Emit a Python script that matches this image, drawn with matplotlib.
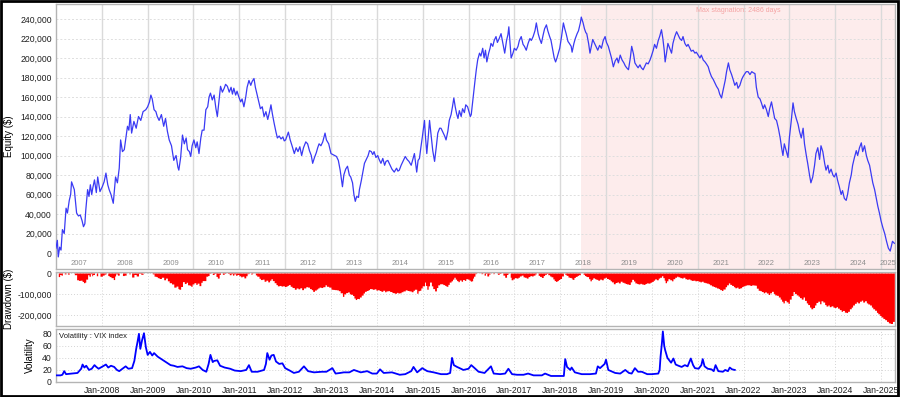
import matplotlib
matplotlib.use('Agg')
import matplotlib.pyplot as plt
import matplotlib.transforms as mtransforms
from matplotlib.patches import Rectangle
from matplotlib.ticker import FuncFormatter
import numpy as np

plt.rcParams['font.family'] = ['Liberation Sans', 'DejaVu Sans']

# equity curve (decimal year, thousand $)
eq_t = [2007.00, 2007.03, 2007.05, 2007.08, 2007.11, 2007.14, 2007.18, 2007.22, 2007.25, 2007.29,
        2007.32, 2007.34, 2007.40, 2007.45, 2007.49, 2007.53, 2007.57, 2007.60, 2007.63, 2007.65,
        2007.69, 2007.72, 2007.75, 2007.78, 2007.80, 2007.84, 2007.88, 2007.91, 2007.96, 2008.01,
        2008.05, 2008.09, 2008.13, 2008.16, 2008.20, 2008.25, 2008.28, 2008.30, 2008.34, 2008.38,
        2008.41, 2008.45, 2008.49, 2008.53, 2008.56, 2008.59, 2008.62, 2008.65, 2008.70, 2008.75,
        2008.80, 2008.85, 2008.90, 2008.96, 2009.00, 2009.04, 2009.07, 2009.10, 2009.14, 2009.18,
        2009.21, 2009.25, 2009.30, 2009.35, 2009.39, 2009.43, 2009.47, 2009.52, 2009.57, 2009.62,
        2009.66, 2009.68, 2009.72, 2009.76, 2009.80, 2009.84, 2009.87, 2009.91, 2009.94, 2009.97,
        2010.01, 2010.05, 2010.08, 2010.12, 2010.16, 2010.19, 2010.23, 2010.27, 2010.31, 2010.34,
        2010.37, 2010.41, 2010.45, 2010.49, 2010.52, 2010.56, 2010.59, 2010.63, 2010.67, 2010.70,
        2010.74, 2010.78, 2010.82, 2010.85, 2010.88, 2010.92, 2010.95, 2010.99, 2011.03, 2011.06,
        2011.10, 2011.14, 2011.17, 2011.21, 2011.25, 2011.28, 2011.32, 2011.35, 2011.38, 2011.43,
        2011.46, 2011.50, 2011.54, 2011.58, 2011.62, 2011.66, 2011.69, 2011.72, 2011.76, 2011.80,
        2011.83, 2011.87, 2011.91, 2011.95, 2011.98, 2012.01, 2012.04, 2012.07, 2012.11, 2012.15,
        2012.20, 2012.24, 2012.28, 2012.32, 2012.36, 2012.40, 2012.45, 2012.49, 2012.53, 2012.57,
        2012.60, 2012.64, 2012.68, 2012.71, 2012.74, 2012.78, 2012.82, 2012.87, 2012.90, 2012.95,
        2013.00, 2013.04, 2013.08, 2013.12, 2013.16, 2013.20, 2013.25, 2013.28, 2013.32, 2013.36,
        2013.40, 2013.43, 2013.47, 2013.50, 2013.53, 2013.56, 2013.60, 2013.62, 2013.66, 2013.70,
        2013.73, 2013.77, 2013.81, 2013.84, 2013.88, 2013.91, 2013.94, 2013.98, 2014.02, 2014.05,
        2014.09, 2014.13, 2014.17, 2014.20, 2014.24, 2014.28, 2014.33, 2014.38, 2014.43, 2014.46,
        2014.49, 2014.53, 2014.57, 2014.62, 2014.66, 2014.70, 2014.75, 2014.79, 2014.82, 2014.87,
        2014.90, 2014.93, 2014.96, 2014.99, 2015.04, 2015.06, 2015.09, 2015.12, 2015.15, 2015.19,
        2015.22, 2015.26, 2015.30, 2015.33, 2015.37, 2015.40, 2015.44, 2015.48, 2015.51, 2015.55,
        2015.58, 2015.62, 2015.65, 2015.68, 2015.71, 2015.74, 2015.77, 2015.80, 2015.84, 2015.87,
        2015.91, 2015.94, 2015.98, 2016.01, 2016.04, 2016.06, 2016.09, 2016.11, 2016.14, 2016.17,
        2016.20, 2016.24, 2016.27, 2016.31, 2016.34, 2016.37, 2016.40, 2016.44, 2016.47, 2016.49,
        2016.53, 2016.56, 2016.60, 2016.63, 2016.67, 2016.71, 2016.75, 2016.79, 2016.83, 2016.86,
        2016.88, 2016.91, 2016.93, 2016.97, 2017.00, 2017.04, 2017.08, 2017.11, 2017.15, 2017.19,
        2017.22, 2017.26, 2017.30, 2017.34, 2017.37, 2017.41, 2017.45, 2017.48, 2017.52, 2017.55,
        2017.59, 2017.63, 2017.66, 2017.70, 2017.73, 2017.77, 2017.80, 2017.84, 2017.87, 2017.90,
        2017.93, 2017.96, 2017.99, 2018.03, 2018.07, 2018.10, 2018.13, 2018.17, 2018.20, 2018.24,
        2018.26, 2018.30, 2018.33, 2018.37, 2018.40, 2018.44, 2018.46, 2018.50, 2018.53, 2018.56,
        2018.58, 2018.62, 2018.65, 2018.68, 2018.71, 2018.75, 2018.78, 2018.82, 2018.86, 2018.90,
        2018.94, 2018.98, 2019.01, 2019.05, 2019.09, 2019.12, 2019.16, 2019.20, 2019.24, 2019.27,
        2019.31, 2019.35, 2019.39, 2019.42, 2019.45, 2019.49, 2019.53, 2019.56, 2019.60, 2019.63,
        2019.67, 2019.70, 2019.74, 2019.77, 2019.81, 2019.85, 2019.88, 2019.92, 2019.96, 2019.99,
        2020.03, 2020.06, 2020.10, 2020.14, 2020.17, 2020.21, 2020.24, 2020.27, 2020.29, 2020.32,
        2020.35, 2020.39, 2020.43, 2020.46, 2020.50, 2020.54, 2020.57, 2020.61, 2020.65, 2020.68,
        2020.72, 2020.76, 2020.79, 2020.83, 2020.86, 2020.90, 2020.94, 2020.97, 2021.01, 2021.05,
        2021.08, 2021.12, 2021.16, 2021.19, 2021.23, 2021.26, 2021.30, 2021.34, 2021.37, 2021.41,
        2021.45, 2021.48, 2021.52, 2021.55, 2021.60, 2021.63, 2021.67, 2021.70, 2021.74, 2021.78,
        2021.81, 2021.85, 2021.88, 2021.92, 2021.96, 2021.99, 2022.03, 2022.06, 2022.10, 2022.14,
        2022.18, 2022.21, 2022.25, 2022.28, 2022.32, 2022.36, 2022.39, 2022.43, 2022.46, 2022.50,
        2022.54, 2022.57, 2022.61, 2022.65, 2022.68, 2022.72, 2022.76, 2022.80, 2022.83, 2022.86,
        2022.89, 2022.93, 2022.97, 2023.00, 2023.04, 2023.08, 2023.11, 2023.15, 2023.19, 2023.22,
        2023.26, 2023.30, 2023.33, 2023.37, 2023.40, 2023.44, 2023.47, 2023.51, 2023.55, 2023.58,
        2023.62, 2023.66, 2023.69, 2023.73, 2023.77, 2023.80, 2023.84, 2023.87, 2023.91, 2023.95,
        2023.98, 2024.02, 2024.05, 2024.09, 2024.13, 2024.16, 2024.20, 2024.24, 2024.27, 2024.31,
        2024.35, 2024.38, 2024.42, 2024.46, 2024.49, 2024.53, 2024.57, 2024.60, 2024.64, 2024.68,
        2024.71, 2024.75, 2024.79, 2024.82, 2024.86, 2024.90, 2024.93, 2024.97, 2025.00, 2025.04,
        2025.08, 2025.12, 2025.16, 2025.20, 2025.25, 2025.29]
eq_v = [5, 13, -4, 6, 3, 24, 20, 46, 41, 54,
        60, 73, 65, 41, 38, 39, 33, 27, 30, 44,
        65, 58, 70, 60, 66, 75, 62, 78, 63, 68,
        73, 82, 70, 65, 60, 51, 68, 78, 72, 87,
        116, 104, 106, 120, 130, 126, 142, 123, 135, 128,
        140, 136, 145, 147, 150, 155, 162, 158, 147, 145,
        140, 136, 142, 130, 138, 125, 116, 110, 95, 100,
        88, 85, 98, 121, 112, 118, 106, 104, 99, 110,
        116, 108, 114, 102, 118, 126, 126, 147, 150, 160,
        164, 157, 162, 148, 140, 158, 171, 165, 169, 173,
        171, 165, 170, 163, 169, 162, 166, 160, 155, 158,
        150, 160, 170, 177, 172, 176, 179, 170, 164, 154,
        148, 150, 140, 145, 137, 145, 152, 143, 133, 124,
        118, 120, 117, 119, 115, 116, 120, 124, 116, 110,
        102, 108, 104, 109, 100, 108, 114, 112, 105, 100,
        92, 98, 103, 108, 112, 110, 114, 123, 116, 112,
        102, 101, 100, 99, 95, 85, 68, 80, 86, 89,
        80, 78, 72, 60, 53, 58, 57, 65, 74, 84,
        92, 96, 100, 105, 104, 101, 104, 98, 100, 96,
        92, 97, 90, 94, 95, 91, 86, 83, 87, 84,
        85, 90, 94, 99, 96, 94, 90, 97, 102, 83,
        95, 97, 108, 118, 136, 120, 102, 118, 136, 118,
        105, 94, 110, 123, 128, 128, 124, 120, 116, 125,
        136, 142, 150, 159, 150, 143, 138, 146, 140, 148,
        144, 152, 150, 145, 140, 142, 155, 164, 176, 188,
        198, 205, 202, 210, 200, 208, 196, 205, 210, 215,
        212, 218, 222, 216, 220, 225, 215, 205, 218, 224,
        232, 212, 200, 205, 210, 208, 212, 218, 222, 214,
        212, 208, 215, 220, 218, 222, 228, 236, 225, 220,
        215, 224, 230, 234, 228, 222, 218, 208, 200, 196,
        200, 205, 210, 222, 236, 230, 225, 217, 215, 212,
        206, 215, 220, 225, 228, 236, 242, 236, 230, 226,
        225, 215, 205, 212, 219, 215, 212, 208, 213, 210,
        218, 222, 216, 212, 205, 200, 191, 197, 200, 195,
        203, 198, 195, 192, 190, 188, 200, 212, 204, 195,
        192, 190, 193, 190, 188, 192, 195, 194, 198, 202,
        208, 214, 210, 218, 222, 229, 220, 208, 196, 205,
        215, 210, 205, 215, 222, 227, 224, 220, 218, 222,
        215, 212, 214, 210, 207, 208, 205, 206, 203, 200,
        203, 198, 196, 194, 191, 186, 181, 178, 175, 171,
        168, 163, 159, 166, 177, 186, 195, 188, 183, 177,
        172, 175, 169, 172, 178, 181, 184, 186, 186, 183,
        186, 185, 184, 170, 160, 158, 154, 148, 152, 147,
        140, 148, 155, 145, 138, 136, 128, 118, 108, 100,
        112, 105, 98, 118, 135, 154, 145, 138, 132, 125,
        118, 128, 112, 100, 92, 80, 72, 78, 90, 102,
        108, 96, 110, 104, 92, 85, 90, 82, 86, 80,
        78, 82, 75, 68, 60, 64, 56, 54, 60, 72,
        80, 90, 98, 105, 100, 108, 113, 104, 110, 100,
        95, 90, 80, 72, 65, 55, 48, 40, 33, 26,
        20, 12, 5, 2, 12, 10]

# VIX index (decimal year, level)
vix_t = [2007.00, 2007.10, 2007.14, 2007.18, 2007.22, 2007.35, 2007.47, 2007.55, 2007.58, 2007.62,
         2007.66, 2007.72, 2007.78, 2007.84, 2007.88, 2007.93, 2008.00, 2008.09, 2008.14, 2008.20,
         2008.27, 2008.33, 2008.38, 2008.45, 2008.52, 2008.58, 2008.66, 2008.71, 2008.75, 2008.78,
         2008.81, 2008.84, 2008.88, 2008.92, 2008.96, 2009.00, 2009.05, 2009.10, 2009.14, 2009.18,
         2009.22, 2009.30, 2009.40, 2009.50, 2009.57, 2009.65, 2009.76, 2009.85, 2009.94, 2010.05,
         2010.12, 2010.20, 2010.28, 2010.33, 2010.37, 2010.42, 2010.45, 2010.52, 2010.58, 2010.68,
         2010.80, 2010.90, 2011.03, 2011.15, 2011.21, 2011.27, 2011.40, 2011.54, 2011.58, 2011.61,
         2011.66, 2011.70, 2011.75, 2011.80, 2011.87, 2011.94, 2012.00, 2012.10, 2012.19, 2012.30,
         2012.41, 2012.50, 2012.63, 2012.80, 2012.90, 2013.03, 2013.10, 2013.20, 2013.28, 2013.40,
         2013.50, 2013.65, 2013.79, 2013.90, 2014.00, 2014.07, 2014.15, 2014.33, 2014.50, 2014.62,
         2014.75, 2014.80, 2014.88, 2014.99, 2015.10, 2015.24, 2015.40, 2015.53, 2015.60, 2015.64,
         2015.68, 2015.75, 2015.89, 2016.00, 2016.06, 2016.12, 2016.22, 2016.35, 2016.49, 2016.55,
         2016.69, 2016.80, 2016.87, 2016.95, 2017.06, 2017.20, 2017.30, 2017.42, 2017.60, 2017.67,
         2017.80, 2017.95, 2018.08, 2018.11, 2018.15, 2018.22, 2018.25, 2018.32, 2018.47, 2018.65,
         2018.78, 2018.82, 2018.87, 2018.97, 2019.00, 2019.05, 2019.20, 2019.31, 2019.42, 2019.50,
         2019.56, 2019.63, 2019.70, 2019.78, 2019.90, 2020.00, 2020.14, 2020.17, 2020.19, 2020.22,
         2020.24, 2020.27, 2020.29, 2020.34, 2020.37, 2020.42, 2020.47, 2020.52, 2020.58, 2020.65,
         2020.72, 2020.78, 2020.85, 2020.90, 2020.94, 2021.02, 2021.08, 2021.11, 2021.15, 2021.22,
         2021.30, 2021.35, 2021.39, 2021.45, 2021.55, 2021.60, 2021.66, 2021.70, 2021.75, 2021.81]
vix_v = [11, 11, 12, 18, 13, 14, 15, 22, 29, 24,
         27, 20, 22, 28, 25, 22, 25, 29, 24, 27,
         25, 20, 18, 22, 26, 22, 23, 35, 55, 67,
         80, 55, 70, 81, 58, 45, 50, 44, 48, 45,
         42, 38, 33, 28, 27, 25, 26, 23, 22, 24,
         26, 20, 17, 30, 45, 33, 35, 36, 27, 24,
         22, 19, 18, 20, 28, 17, 17, 20, 30, 48,
         37, 44, 45, 34, 30, 31, 23, 19, 15, 17,
         26, 18, 16, 17, 17, 23, 14, 15, 16, 16,
         20, 16, 18, 14, 14, 21, 15, 16, 12, 13,
         18, 25, 16, 23, 18, 16, 13, 13, 15, 40,
         28, 25, 20, 22, 28, 24, 17, 15, 26, 14,
         13, 14, 22, 13, 12, 12, 14, 11, 11, 14,
         10, 10, 10, 38, 25, 20, 24, 16, 13, 13,
         14, 26, 23, 30, 37, 20, 15, 14, 20, 15,
         14, 23, 17, 17, 13, 13, 14, 20, 42, 65,
         84, 60, 53, 40, 37, 32, 39, 29, 27, 25,
         28, 26, 39, 28, 23, 22, 28, 38, 26, 22,
         21, 18, 28, 18, 17, 20, 18, 24, 21, 20]

years = list(range(2008, 2026))
stagnation_start = 2018.46
stagnation_days = 2486

x_min, x_max = 2007.0, 2025.3
grid_col = '#dedede'
tick_col = '#202020'


def thousands(v, pos):
    return '{:,.0f}'.format(v)


def style_axis(ax):
    for s in ax.spines.values():
        s.set_color('#b4b4b4')
        s.set_linewidth(1.0)
    ax.tick_params(axis='both', length=0, labelsize=6.2, colors=tick_col, pad=3)
    ax.set_xlim(x_min, x_max)


def plot_chart():
    equity = np.array(eq_v) * 1000.0
    t = np.array(eq_t)
    drawdown = equity - np.maximum.accumulate(equity)

    fig = plt.figure(figsize=(9, 3.97), dpi=100)
    ax1 = fig.add_axes([0.0622, 0.3224, 0.932, 0.6675])
    ax2 = fig.add_axes([0.0622, 0.1788, 0.932, 0.1361])
    ax3 = fig.add_axes([0.0622, 0.0378, 0.932, 0.1335])

    # --- equity panel
    style_axis(ax1)
    ax1.axvspan(stagnation_start, x_max, color='#fdecec', zorder=0, lw=0)
    for y in years:
        ax1.axvline(y, color='#dadada', lw=1.0, zorder=1)
    ax1.set_yticks(np.arange(0, 240001, 20000))
    ax1.yaxis.grid(True, color=grid_col, lw=0.7, ls=(0, (2, 2)))
    ax1.set_ylim(-16400, 255400)
    ax1.yaxis.set_major_formatter(FuncFormatter(thousands))
    ax1.set_xticks([])
    ax1.plot(t, equity, color='#3a3af4', lw=0.9, zorder=3)
    ax1.set_ylabel('Equity ($)', fontsize=7)
    ax1.yaxis.set_label_coords(-0.05, 0.5)
    trans = mtransforms.blended_transform_factory(ax1.transData, ax1.transAxes)
    for y in range(2007, 2026):
        xc = (y + min(y + 1, x_max)) / 2.0
        ax1.text(xc, 0.022, str(y), transform=trans, ha='center', va='center',
                 fontsize=5.5, color='#8e8e8e')
    ax1.text((stagnation_start + x_max) / 2.0, 0.975,
             'Max stagnation: {} days'.format(stagnation_days),
             transform=trans, ha='center', va='center', fontsize=5, color='#f5a3a3')

    # --- drawdown panel
    style_axis(ax2)
    ax2.fill_between(t, drawdown, 0, step='post', color='#ff0000', lw=0, zorder=3)
    ax2.set_ylim(-252000, 5000)
    ax2.set_yticks([0, -100000, -200000])
    ax2.yaxis.set_major_formatter(FuncFormatter(thousands))
    ax2.set_xticks(years)
    ax2.set_xticklabels([])
    ax2.grid(True, color='#d4d4d4', lw=0.7, ls=(0, (1, 2)))
    ax2.set_ylabel('Drawdown ($)', fontsize=7)
    ax2.yaxis.set_label_coords(-0.05, 0.5)

    # --- volatility panel
    style_axis(ax3)
    ax3.plot(vix_t, vix_v, color='#0000ff', lw=1.3, zorder=3)
    ax3.set_ylim(0, 88)
    ax3.set_yticks([0, 20, 40, 60, 80])
    ax3.set_xticks(years)
    ax3.set_xticklabels(['Jan-{}'.format(y) for y in years])
    ax3.grid(True, color='#d4d4d4', lw=0.7, ls=(0, (1, 2)))
    ax3.set_ylabel('Volatility', fontsize=7)
    ax3.yaxis.set_label_coords(-0.025, 0.5)
    ax3.text(0.004, 0.93, 'Volatility : VIX index', transform=ax3.transAxes,
             ha='left', va='top', fontsize=5.5, color='#202020')

    fig.patches.append(Rectangle((0.001, 0.002), 0.997, 0.995, transform=fig.transFigure,
                                 fill=False, edgecolor='black', lw=2))
    fig.savefig('out.png', dpi=100)


if __name__ == '__main__':
    plot_chart()
